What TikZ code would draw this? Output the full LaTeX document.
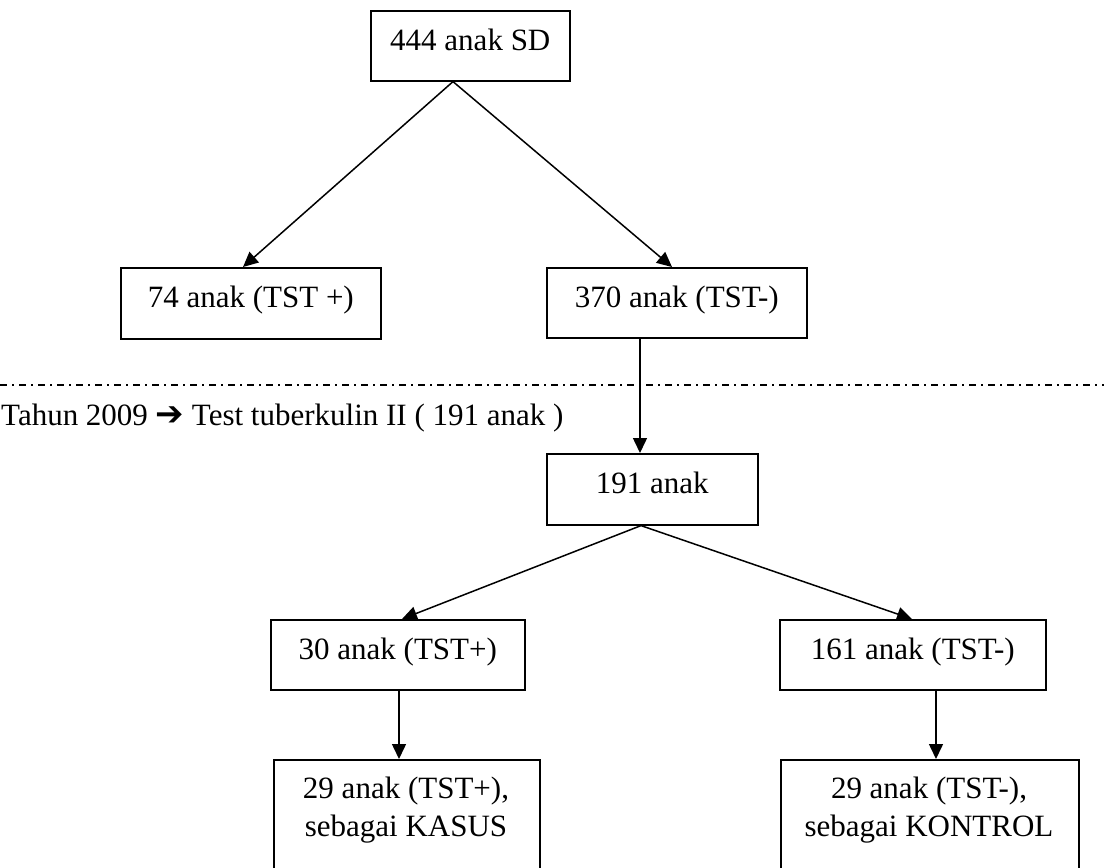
\documentclass[tikz,border=0pt]{standalone}
\usepackage{fontspec}
\setmainfont{Liberation Serif}
\newfontfamily\arrowfont{DejaVu Sans}
\usetikzlibrary{arrows.meta}
\begin{document}
\begin{tikzpicture}[x=1pt,y=-1pt,
  txt/.style={font=\fontsize{31}{38}\selectfont},
  box/.style={draw, line width=1.6pt, rectangle, inner sep=0pt, txt,
    text height=21pt, text depth=12pt, anchor=north west},
  link/.style={line width=1.5pt, -{Triangle[length=15pt,width=14pt]}},
  sep/.style={line width=1.6pt, dash pattern=on 7pt off 5pt on 2pt off 5pt}]
\clip (0,0) rectangle (1104,868);

% boxes
\node[box, minimum width=199pt, minimum height=70pt] (A) at (370,10) {444 anak SD};
\node[box, minimum width=260pt, minimum height=71pt] (B) at (120,267) {74 anak (TST +)};
\node[box, minimum width=260pt, minimum height=70pt] (C) at (546,267) {370 anak (TST-)};
\node[box, minimum width=211pt, minimum height=71pt] (D) at (546,453) {191 anak};
\node[box, minimum width=254pt, minimum height=70pt] (E) at (270,619) {30 anak (TST+)};
\node[box, minimum width=266pt, minimum height=70pt] (F) at (779,619) {161 anak (TST-)};
\node[box, minimum width=266pt, minimum height=140pt] (G) at (273,759) {};
\node[box, minimum width=298pt, minimum height=140pt] (H) at (780,759) {};
\node[txt, inner sep=0pt, anchor=north, align=center] (Gt) at (406,777)
  {29 anak (TST+),\\sebagai KASUS};
\node[txt, inner sep=0pt, anchor=north, align=center] (Ht) at (929,777)
  {29 anak (TST-),\\sebagai KONTROL};

% separator and year label
\coordinate (sepL) at (0,385);
\coordinate (sepR) at (1104,385);
\draw[sep] (sepL) -- (sepR);
\node[txt, inner sep=0pt, anchor=base west] (yr) at (1,425)
  {Tahun 2009 {\arrowfont\fontsize{34}{38}\selectfont ➔} Test tuberkulin II ( 191 anak )};

% connectors
\draw[link] ([xshift=83pt]A.south west) -- ([xshift=123pt]B.north west);
\draw[link] ([xshift=83pt]A.south west) -- ([xshift=126pt]C.north west);
\draw[link] ([xshift=94pt]C.south west) -- ([xshift=94pt]D.north west);
\draw[link] ([xshift=95pt]D.south west) -- ([xshift=132pt]E.north west);
\draw[link] ([xshift=95pt]D.south west) -- ([xshift=133pt]F.north west);
\draw[link] ([xshift=129pt]E.south west) -- ([xshift=126pt]G.north west);
\draw[link] ([xshift=157pt]F.south west) -- ([xshift=156pt]H.north west);
\end{tikzpicture}
\end{document}
